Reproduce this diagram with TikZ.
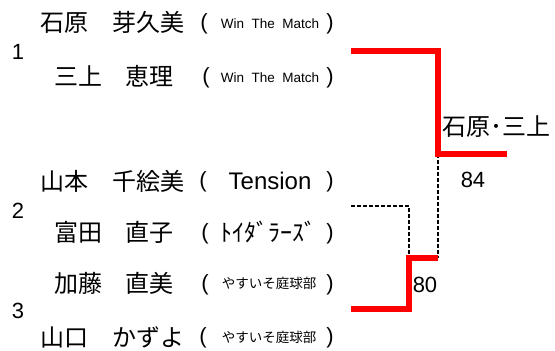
\documentclass[tikz,border=0pt]{standalone}
\usepackage{fontspec}
\setmainfont{Liberation Sans}
\newfontfamily\jpfont{Noto Sans CJK JP}

\begin{document}
\begin{tikzpicture}[x=1pt,y=-1pt,
      every node/.style={inner sep=0pt},
      player/.style={font=\jpfont\fontsize{24}{28}\selectfont},
      paren/.style={font=\fontsize{22}{26}\selectfont},
      team/.style={font=\fontsize{13.5}{16}\selectfont},
      teamjp/.style={font=\jpfont\fontsize{13.5}{16}\selectfont},
      seed/.style={font=\fontsize{22}{26}\selectfont},
      win/.style={red,line width=6pt,line join=miter},
      lose/.style={black,line width=1.3pt,dash pattern=on 4pt off 2pt}]
      \useasboundingbox (0,0) rectangle (555,351);
      % pairs
      \path (18,52) node[seed] (s1) {1};
      \path (18,211) node[seed] (s2) {2};
      \path (18,311) node[seed] (s3) {3};
      \path (113,22) node[player] (n1) {石原　芽久美};
      \path (114,76) node[player] (n2) {三上　恵理};
      \path (113,181) node[player] (n3) {山本　千絵美};
      \path (114,232) node[player] (n4) {富田　直子};
      \path (114,283) node[player] (n5) {加藤　直美};
      \path (113,337) node[player] (n6) {山口　かずよ};
      % teams
      \path (204,24) node[paren] (l1) {(};
      \path (270,24) node[team] (t1) {Win~~The~~Match};
      \path (330,24) node[paren] (r1) {)};
      \path (206,78) node[paren] (l2) {(};
      \path (270,78) node[team] (t2) {Win~~The~~Match};
      \path (330,78) node[paren] (r2) {)};
      \path (203,182) node[paren] (l3) {(};
      \path (270,181) node[font=\fontsize{24}{28}\selectfont] (t3) {Tension};
      \path (330,182) node[paren] (r3) {)};
      \path (205,234) node[paren] (l4) {(};
      \path (268,232) node[font=\jpfont\fontsize{24}{28}\selectfont] (t4) {ﾄｲﾀﾞﾗｰｽﾞ};
      \path (330,234) node[paren] (r4) {)};
      \path (205,285) node[paren] (l5) {(};
      \path (269,283) node[teamjp] (t5) {やすいそ庭球部};
      \path (330,285) node[paren] (r5) {)};
      \path (203,338) node[paren] (l6) {(};
      \path (269,337) node[teamjp] (t6) {やすいそ庭球部};
      \path (330,338) node[paren] (r6) {)};
      % bracket
      \coordinate (p1) at (351,51);
      \coordinate (p2) at (351,206);
      \coordinate (p3) at (351,309);
      \coordinate (j1) at (438,154);
      \coordinate (j3) at (409,258);
      \coordinate (j3b) at (438,258);
      \coordinate (fin) at (507,154);
      \draw[lose] (p2) -| (j3);
      \draw[lose] (j1) -- (j3b);
      \draw[win] (p1) -| (j1) -- (fin);
      \draw[win] (p3) -| (j3) -- (j3b);
      \path (496,127) node[player] (w) {石原･三上};
      \path (473,180) node[seed] (sc1) {84};
      \path (425,285) node[seed] (sc2) {80};
\end{tikzpicture}
\end{document}
